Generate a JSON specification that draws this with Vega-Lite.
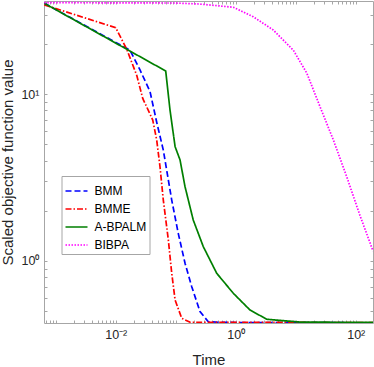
{
  "$schema": "https://vega.github.io/schema/vega-lite/v6.json",
  "width": 329,
  "height": 322,
  "autosize": {"type": "none"},
  "padding": {"left": 44, "top": 1, "right": 1, "bottom": 44},
  "background": "white",
  "config": {"view": {"stroke": "#a6a6a6", "strokeWidth": 1}, "font": "Liberation Sans"},
  "data": {"values": [
    {"Method": "BMM", "Time": 0.000645, "Value": 35.2},
    {"Method": "BMM", "Time": 0.0173, "Value": 18.4},
    {"Method": "BMM", "Time": 0.0254, "Value": 14.0},
    {"Method": "BMM", "Time": 0.0373, "Value": 10.4},
    {"Method": "BMM", "Time": 0.0482, "Value": 6.8},
    {"Method": "BMM", "Time": 0.0621, "Value": 4.63},
    {"Method": "BMM", "Time": 0.0858, "Value": 2.32},
    {"Method": "BMM", "Time": 0.110, "Value": 1.47},
    {"Method": "BMM", "Time": 0.143, "Value": 0.969},
    {"Method": "BMM", "Time": 0.185, "Value": 0.701},
    {"Method": "BMM", "Time": 0.254, "Value": 0.497},
    {"Method": "BMM", "Time": 0.349, "Value": 0.432},
    {"Method": "BMM", "Time": 0.6, "Value": 0.428},
    {"Method": "BMM", "Time": 2, "Value": 0.427},
    {"Method": "BMM", "Time": 194, "Value": 0.426},
    {"Method": "BMME", "Time": 0.000645, "Value": 34.4},
    {"Method": "BMME", "Time": 0.01, "Value": 25.1},
    {"Method": "BMME", "Time": 0.0153, "Value": 18.6},
    {"Method": "BMME", "Time": 0.0224, "Value": 13.0},
    {"Method": "BMME", "Time": 0.0282, "Value": 9.46},
    {"Method": "BMME", "Time": 0.0414, "Value": 7.01},
    {"Method": "BMME", "Time": 0.0482, "Value": 5.32},
    {"Method": "BMME", "Time": 0.0547, "Value": 3.68},
    {"Method": "BMME", "Time": 0.0621, "Value": 2.32},
    {"Method": "BMME", "Time": 0.0753, "Value": 1.34},
    {"Method": "BMME", "Time": 0.0858, "Value": 0.844},
    {"Method": "BMME", "Time": 0.0977, "Value": 0.583},
    {"Method": "BMME", "Time": 0.126, "Value": 0.453},
    {"Method": "BMME", "Time": 0.174, "Value": 0.429},
    {"Method": "BMME", "Time": 194, "Value": 0.427},
    {"Method": "A-BPALM", "Time": 0.000645, "Value": 35.2},
    {"Method": "A-BPALM", "Time": 0.0681, "Value": 13.8},
    {"Method": "A-BPALM", "Time": 0.0803, "Value": 8.05},
    {"Method": "A-BPALM", "Time": 0.0977, "Value": 4.85},
    {"Method": "A-BPALM", "Time": 0.118, "Value": 4.04},
    {"Method": "A-BPALM", "Time": 0.143, "Value": 2.79},
    {"Method": "A-BPALM", "Time": 0.196, "Value": 1.76},
    {"Method": "A-BPALM", "Time": 0.288, "Value": 1.22},
    {"Method": "A-BPALM", "Time": 0.482, "Value": 0.844},
    {"Method": "A-BPALM", "Time": 0.912, "Value": 0.640},
    {"Method": "A-BPALM", "Time": 1.73, "Value": 0.508},
    {"Method": "A-BPALM", "Time": 3.29, "Value": 0.447},
    {"Method": "A-BPALM", "Time": 11.8, "Value": 0.430},
    {"Method": "A-BPALM", "Time": 194, "Value": 0.428},
    {"Method": "BIBPA", "Time": 0.000645, "Value": 35.5},
    {"Method": "BIBPA", "Time": 0.1, "Value": 35.3},
    {"Method": "BIBPA", "Time": 0.254, "Value": 34.8},
    {"Method": "BIBPA", "Time": 0.912, "Value": 33.3},
    {"Method": "BIBPA", "Time": 1.96, "Value": 29.2},
    {"Method": "BIBPA", "Time": 4.23, "Value": 24.3},
    {"Method": "BIBPA", "Time": 9.12, "Value": 18.4},
    {"Method": "BIBPA", "Time": 15.3, "Value": 13.4},
    {"Method": "BIBPA", "Time": 25.4, "Value": 8.43},
    {"Method": "BIBPA", "Time": 42.4, "Value": 5.32},
    {"Method": "BIBPA", "Time": 70.8, "Value": 3.2},
    {"Method": "BIBPA", "Time": 118, "Value": 1.87},
    {"Method": "BIBPA", "Time": 194, "Value": 1.15}
  ]},
  "layer": [
    {
      "mark": {"type": "line", "clip": true, "strokeWidth": 1.7},
      "encoding": {
        "x": {
          "field": "Time", "type": "quantitative",
          "scale": {"type": "log", "domain": [0.000638, 194], "nice": false},
          "axis": {
            "orient": "bottom",
            "values": [0.0007, 0.0008, 0.0009, 0.001, 0.002, 0.003, 0.004, 0.005, 0.006, 0.007, 0.008, 0.009, 0.01, 0.02, 0.03, 0.04, 0.05, 0.06, 0.07, 0.08, 0.09, 0.1, 0.2, 0.3, 0.4, 0.5, 0.6, 0.7, 0.8, 0.9, 1, 2, 3, 4, 5, 6, 7, 8, 9, 10, 20, 30, 40, 50, 60, 70, 80, 90, 100],
            "labelExpr": "datum.value == 0.01 ? '10⁻²' : datum.value == 1 ? '10⁰' : datum.value == 100 ? '10²' : ''",
            "tickSize": -3,
            "tickColor": "#a6a6a6",
            "domain": false,
            "grid": false,
            "labelOverlap": false,
            "labelFlush": false,
            "labelBound": false,
            "labelFontSize": 12.5,
            "labelColor": "#262626",
            "labelPadding": 8,
            "title": "Time",
            "titleFontSize": 15,
            "titleFontWeight": "normal",
            "titleColor": "#262626",
            "titleBaseline": "alphabetic",
            "titleY": 41.5
          }
        },
        "y": {
          "field": "Value", "type": "quantitative",
          "scale": {"type": "log", "domain": [0.4246, 36.3], "nice": false},
          "axis": {
            "orient": "left",
            "values": [0.5, 0.6, 0.7, 0.8, 0.9, 1, 2, 3, 4, 5, 6, 7, 8, 9, 10, 20, 30],
            "labelExpr": "datum.value == 1 ? '10⁰' : datum.value == 10 ? '10¹' : ''",
            "tickSize": -3,
            "tickColor": "#a6a6a6",
            "domain": false,
            "grid": false,
            "labelOverlap": false,
            "labelFlush": false,
            "labelBound": false,
            "labelFontSize": 12.5,
            "labelColor": "#262626",
            "labelPadding": 8,
            "title": "Scaled objective function value",
            "titleFontSize": 15,
            "titleFontWeight": "normal",
            "titleColor": "#262626",
            "titleBaseline": "alphabetic",
            "titleAngle": -90,
            "titleAlign": "center",
            "titleX": -31.5,
            "titleY": 161
          }
        },
        "color": {
          "field": "Method", "type": "nominal",
          "scale": {"domain": ["BMM", "BMME", "A-BPALM", "BIBPA"], "range": ["#0000ff", "#ff0000", "#007f00", "#ff00ff"]},
          "legend": {"title": null, "orient": "none", "legendX": 17.5, "legendY": 175, "symbolType": "stroke", "symbolSize": 484, "symbolStrokeWidth": 1.7, "labelFontSize": 12, "labelColor": "#000000", "strokeColor": "#a6a6a6", "fillColor": "white", "padding": 3, "rowPadding": -6, "labelOffset": 6}
        },
        "strokeDash": {
          "field": "Method", "type": "nominal",
          "scale": {"domain": ["BMM", "BMME", "A-BPALM", "BIBPA"], "range": [[6, 3], [6, 2, 1.5, 2], [1, 0], [1.5, 1.5]]},
          "legend": {"title": null, "orient": "none", "legendX": 17.5, "legendY": 175, "symbolType": "stroke", "symbolSize": 484, "symbolStrokeWidth": 1.7, "labelFontSize": 12, "labelColor": "#000000", "strokeColor": "#a6a6a6", "fillColor": "white", "padding": 3, "rowPadding": -6, "labelOffset": 6}
        }
      }
    },
    {
      "mark": {"type": "point", "opacity": 0},
      "encoding": {
        "x": {
          "field": "Time", "type": "quantitative",
          "axis": {"orient": "top", "values": [0.0007, 0.0008, 0.0009, 0.001, 0.002, 0.003, 0.004, 0.005, 0.006, 0.007, 0.008, 0.009, 0.01, 0.02, 0.03, 0.04, 0.05, 0.06, 0.07, 0.08, 0.09, 0.1, 0.2, 0.3, 0.4, 0.5, 0.6, 0.7, 0.8, 0.9, 1, 2, 3, 4, 5, 6, 7, 8, 9, 10, 20, 30, 40, 50, 60, 70, 80, 90, 100], "labels": false, "title": null, "tickSize": -3, "tickColor": "#a6a6a6", "domain": false, "grid": false}
        },
        "y": {
          "field": "Value", "type": "quantitative",
          "axis": {"orient": "right", "values": [0.5, 0.6, 0.7, 0.8, 0.9, 1, 2, 3, 4, 5, 6, 7, 8, 9, 10, 20, 30], "labels": false, "title": null, "tickSize": -3, "tickColor": "#a6a6a6", "domain": false, "grid": false}
        }
      }
    }
  ],
  "resolve": {"axis": {"x": "independent", "y": "independent"}}
}
